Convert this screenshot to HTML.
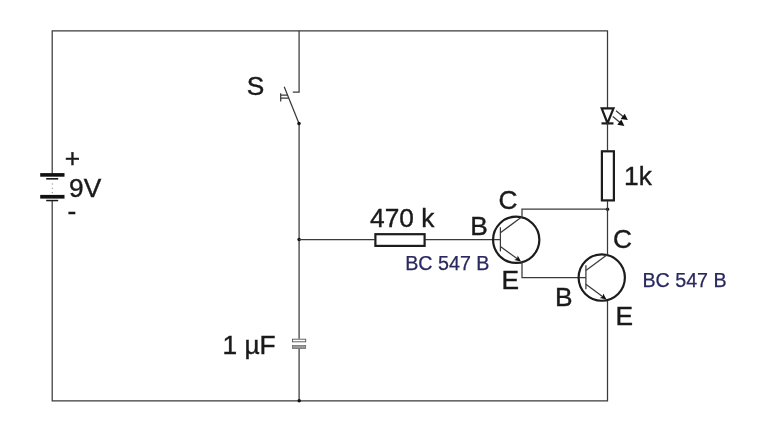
<!DOCTYPE html>
<html><head><meta charset="utf-8"><title>Circuit</title>
<style>
html,body{margin:0;padding:0;background:#fff;overflow:hidden}
svg{display:block;will-change:transform;transform:translateZ(0)}
text{font-family:"Liberation Sans",sans-serif;fill:#1a1a1a;stroke:#1a1a1a;stroke-width:.4}
.w{stroke:#3a3a3a;stroke-width:1.25;fill:none}
.t{stroke:#1c1c1c;stroke-width:2.2;fill:none}
.n{fill:#29285f;stroke:#29285f;stroke-width:.25}
</style></head><body>
<svg width="768" height="432" viewBox="0 0 768 432">
<rect width="768" height="432" fill="#fff"/>
<!-- outer wires -->
<path class="w" d="M52.2 173.5V30.8H607.5V108"/>
<path class="w" d="M52.2 201V400.8H607.5V300"/>
<path class="w" d="M299.1 30.8V92.2H292.8"/>
<path class="w" d="M284.2 86.7L298.9 123.3" stroke="#222" stroke-width="1.4"/>
<path class="w" d="M299.1 123.3V338.8M299.1 348.5V400.8"/>
<path class="w" d="M280.7 93.2V101.4" stroke-width="1.3"/>
<path class="w" d="M280.7 95.2H287.8M280.7 98.1H289" stroke-width="1"/>
<circle cx="299" cy="123.4" r="1.75" fill="#111"/>
<circle cx="299.1" cy="239.6" r="1.75" fill="#111"/>
<circle cx="299.2" cy="400.8" r="1.75" fill="#111"/>
<circle cx="607.5" cy="209.2" r="1.75" fill="#111"/>
<!-- battery -->
<rect x="40.2" y="173.1" width="24.3" height="3.6" fill="#111"/>
<rect x="46.2" y="178" width="12" height="1.6" fill="#1a1a1a"/>
<rect x="40.2" y="194.9" width="24.3" height="3.7" fill="#111"/>
<rect x="46.2" y="199.8" width="12" height="1.5" fill="#1a1a1a"/>
<path d="M52.3 183.5V194" stroke="#777" stroke-width="1" stroke-dasharray="1 3.3"/>
<text x="69" y="197.2" font-size="26.3">9V</text>
<text x="64.8" y="167" font-size="26.3">+</text>
<text x="67.5" y="219.5" font-size="26.3">-</text>
<!-- switch label -->
<text x="246.8" y="95.3" font-size="26.3">S</text>
<!-- LED -->
<path class="t" d="M601.7 108.3H613.5L607.5 123.2Z" stroke-width="1.55"/>
<path class="t" d="M601.5 123.4H613.5" stroke-width="1.5"/>
<path class="w" d="M607.5 123V150.5"/>
<path class="w" d="M616 110.8L624 117.3M612.8 116.4L620.6 122.9" stroke-width="1"/>
<path d="M627.8 120.1L620.7 118.9L624.7 113.8Z" fill="#111"/>
<path d="M624.4 125.9L617.3 124.7L621.3 119.6Z" fill="#111"/>
<!-- R 1k -->
<rect class="t" x="601.9" y="151.3" width="12" height="49.1" />
<path class="w" d="M607.5 201V255"/>
<text x="624" y="184.7" font-size="26.3">1k</text>
<!-- R 470k -->
<path class="w" d="M299.1 239.6H374.5M425.3 239.6H500.4"/>
<rect class="t" x="375.4" y="234.2" width="49.2" height="11.7" stroke-width="2.3"/>
<text x="370" y="227.2" font-size="26.3">470 k</text>
<text class="n" x="405.2" y="269.5" font-size="19.7">BC 547 B</text>
<!-- T1 -->
<circle class="t" cx="516.2" cy="239.8" r="23.15" stroke-width="2.7"/>
<path class="w" d="M500.4 227.3V251.4" stroke-width="1.5"/>
<path class="w" d="M500.4 232.7L522 216.8V209.2H607.5"/>
<path class="w" d="M500.4 246.4L519 260.1"/>
<path class="w" d="M522 262V277.6H586"/>
<path d="M521 261.6L517.7 255.6L517.2 258.6L514.3 260.1Z" fill="#111"/>
<text x="498.5" y="209" font-size="26.3">C</text>
<text x="470.2" y="235" font-size="26.3">B</text>
<text x="501.5" y="289.3" font-size="26.3">E</text>
<!-- T2 -->
<circle class="t" cx="601.75" cy="277.6" r="23.15" stroke-width="2.7"/>
<path class="w" d="M585.9 265.2V289.3" stroke-width="1.5"/>
<path class="w" d="M585.9 270.5L607.5 254.6"/>
<path class="w" d="M585.9 284.2L604.5 297.9"/>
<path d="M606.5 299.4L603.2 293.4L602.7 296.4L599.8 297.9Z" fill="#111"/>
<text x="613.1" y="247.5" font-size="26.3">C</text>
<text x="555" y="306.2" font-size="26.3">B</text>
<text x="615.6" y="324.5" font-size="26.3">E</text>
<text class="n" x="642.4" y="286.5" font-size="19.7">BC 547 B</text>
<!-- capacitor -->
<rect x="292.5" y="339.2" width="13.2" height="2.6" fill="#fff" stroke="#555" stroke-width="0.9"/>
<rect x="292.4" y="345.5" width="13.3" height="3.1" fill="#999" stroke="#666" stroke-width="0.7"/>
<text x="222.5" y="353.5" font-size="26.3">1 µF</text>
</svg>
</body></html>
